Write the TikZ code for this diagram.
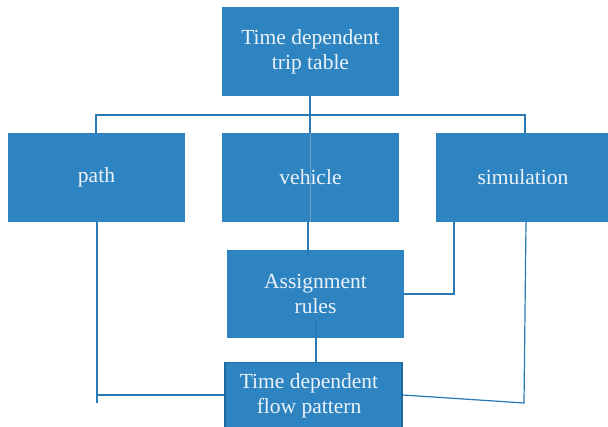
\documentclass[tikz,border=0pt]{standalone}
\usepackage{fontspec}
\setmainfont{Liberation Serif}
\usetikzlibrary{calc}
\definecolor{boxblue}{RGB}{45,132,193}
\definecolor{lineblue}{RGB}{40,120,180}
\definecolor{edgeblue}{RGB}{30,105,160}
\definecolor{txt}{RGB}{236,242,248}
\begin{document}
\begin{tikzpicture}[x=1pt,y=-1pt,
  blk/.style={fill=boxblue,draw=none,text=txt,align=center,font=\fontsize{21.5}{25}\selectfont,inner sep=0pt},
  conn/.style={draw=lineblue,line width=1.2pt},
  faint/.style={draw=lineblue!70!white,line width=1pt}]
\useasboundingbox (0,0) rectangle (608,427);
% boxes
\node[blk,minimum width=177,minimum height=89] (top) at (310.5,51.5) {Time dependent\\trip table};
\node[blk,minimum width=177,minimum height=89] (path) at (96.5,177.5) {path};
\node[blk,minimum width=177,minimum height=89] (veh) at (310.5,177.5) {vehicle};
\node[blk,minimum width=174,minimum height=89] (sim) at (523,177.5) {simulation};
\node[blk,minimum width=177,minimum height=88] (asg) at (315.5,294) {Assignment\\rules};
\node[blk,draw=edgeblue,line width=1.5pt,minimum width=177,minimum height=80,anchor=north] (flow) at (313.5,362) {};
\node[text=txt,align=center,font=\fontsize{21.5}{25}\selectfont,inner sep=0pt] (flowtxt) at (309,396) {Time dependent\\flow pattern};
% x guides
\coordinate (x310) at (310,0);
\coordinate (x308) at (308,0);
\coordinate (x316) at (316,0);
\coordinate (x97) at (97,0);
\coordinate (x454) at (454,0);
\coordinate (x526) at (526,0);
% coordinates
\coordinate (ptop) at (96,133);
\coordinate (stop) at (525,133);
\coordinate (bl) at (96,115);
\coordinate (br) at (525,115);
% connectors
\draw[conn] (top.south -| x310) -- (veh.north -| x310);
\draw[faint] (veh.north -| x310) -- (veh.south -| x310);
\draw[conn] (ptop) -- (bl) -- (br) -- (stop);
\draw[conn] (veh.south -| x308) -- ($(asg.north -| x308)+(0,6)$);
\draw[conn] ($(asg.south -| x316)+(0,-16)$) -- (flow.north -| x316);
\coordinate (pc) at (97,395);
\coordinate (pt) at (97,403);
\draw[conn] (path.south -| x97) -- (pt);
\draw[conn] (pc) -- (flow.west |- pc);
\coordinate (sa) at (454,294);
\draw[conn] (sim.south -| x454) -- (sa) -- (asg.east |- sa);
\coordinate (sb) at (524,403);
\draw[conn] (sim.south -| x526) -- (sb) -- (flow.east |- pc);
\end{tikzpicture}
\end{document}
